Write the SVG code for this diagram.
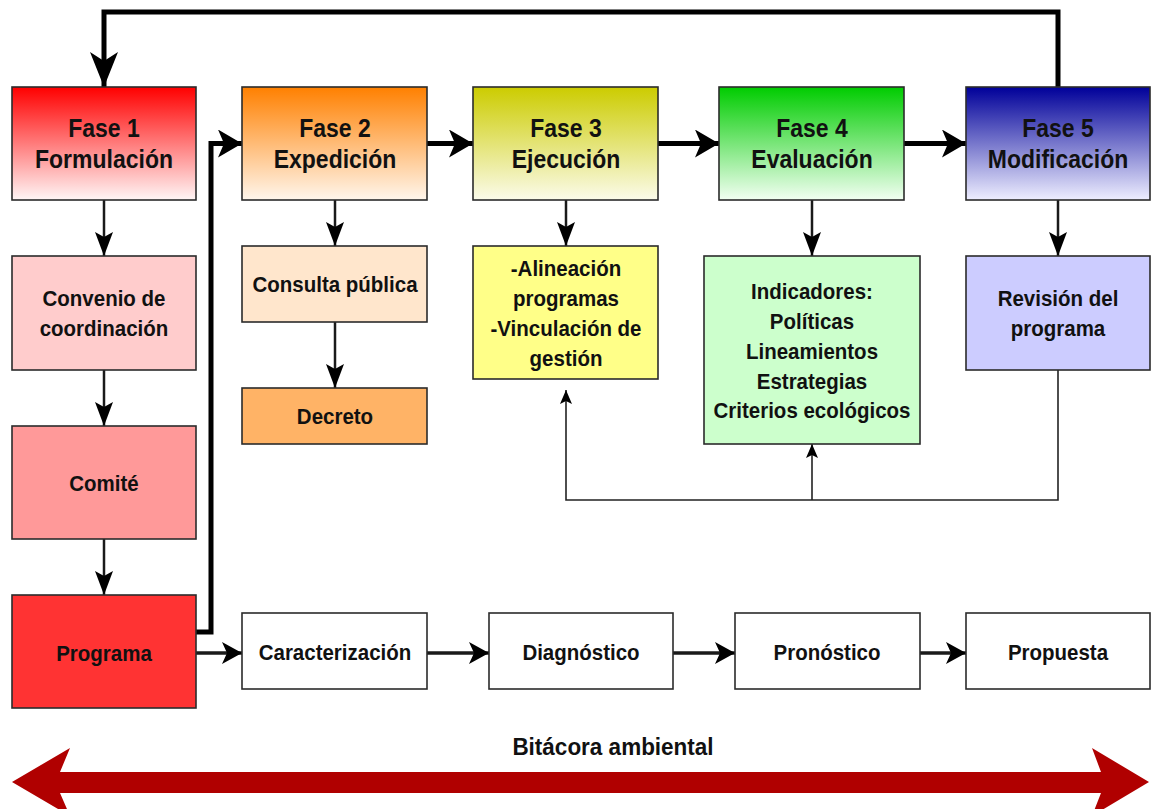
<svg xmlns="http://www.w3.org/2000/svg" width="1156" height="809" viewBox="0 0 1156 809">
  <style>
    .box { stroke: #2b2b2b; stroke-width: 1.6; }
    .t { font-family: "Liberation Sans", Arial, sans-serif; font-weight: bold; text-anchor: middle; fill: #111; }
    .h { font-size: 23px; }
    .s { font-size: 20.5px; }
    .thick { fill: none; stroke: #000; stroke-width: 5; }
    .mid { fill: none; stroke: #1a1a1a; stroke-width: 2.5; }
    .row { fill: none; stroke: #1a1a1a; stroke-width: 3.5; }
    .thin { fill: none; stroke: #222; stroke-width: 1.6; }
  </style>
  <defs>
    <linearGradient id="g1" x1="0" y1="0" x2="0" y2="1">
      <stop offset="0" stop-color="#ff0000"/><stop offset="1" stop-color="#fff6f6"/>
    </linearGradient>
    <linearGradient id="g2" x1="0" y1="0" x2="0" y2="1">
      <stop offset="0" stop-color="#ff8000"/><stop offset="1" stop-color="#fff6ec"/>
    </linearGradient>
    <linearGradient id="g3" x1="0" y1="0" x2="0" y2="1">
      <stop offset="0" stop-color="#cccc00"/><stop offset="1" stop-color="#fbfbea"/>
    </linearGradient>
    <linearGradient id="g4" x1="0" y1="0" x2="0" y2="1">
      <stop offset="0" stop-color="#00cc00"/><stop offset="1" stop-color="#f2fff2"/>
    </linearGradient>
    <linearGradient id="g5" x1="0" y1="0" x2="0" y2="1">
      <stop offset="0" stop-color="#000099"/><stop offset="1" stop-color="#eeeeff"/>
    </linearGradient>
    <marker id="loopHead" markerUnits="userSpaceOnUse" viewBox="0 0 35 28" markerWidth="35" markerHeight="28" refX="35" refY="14" orient="auto">
      <path d="M0,0 L35,14 L0,28 L9,14 z" fill="#000"/>
    </marker>
    <marker id="bigHead" markerUnits="userSpaceOnUse" viewBox="0 0 24 28" markerWidth="24" markerHeight="28" refX="24" refY="14" orient="auto">
      <path d="M0,0 L24,14 L0,28 L6,14 z" fill="#000"/>
    </marker>
    <marker id="midHead" markerUnits="userSpaceOnUse" viewBox="0 0 24 18" markerWidth="24" markerHeight="18" refX="24" refY="9" orient="auto">
      <path d="M0,0 L24,9 L0,18 L5,9 z" fill="#000"/>
    </marker>
    <marker id="rowHead" markerUnits="userSpaceOnUse" viewBox="0 0 20 22" markerWidth="20" markerHeight="22" refX="20" refY="11" orient="auto">
      <path d="M0,0 L20,11 L0,22 L5,11 z" fill="#000"/>
    </marker>
    <marker id="thinHead" markerUnits="userSpaceOnUse" viewBox="0 0 14 12" markerWidth="14" markerHeight="12" refX="14" refY="6" orient="auto">
      <path d="M0,0 L14,6 L0,12 L3,6 z" fill="#000"/>
    </marker>
  </defs>

  <rect width="1156" height="809" fill="#fff"/>

  <!-- connectors -->
  <g id="connectors">
    <!-- loop back from Fase 5 to Fase 1 -->
    <path class="thick" d="M1058,87 V12 H104 V87" marker-end="url(#loopHead)"/>
    <!-- Programa to Fase 2 -->
    <path class="thick" d="M196,632 H211 V143.5 H242" marker-end="url(#bigHead)"/>
    <!-- phase chain -->
    <path class="thick" d="M427,143.5 H473" marker-end="url(#bigHead)"/>
    <path class="thick" d="M658,143.5 H719" marker-end="url(#bigHead)"/>
    <path class="thick" d="M904,143.5 H966" marker-end="url(#bigHead)"/>
    <!-- Fase 1 column -->
    <path class="mid" d="M104,200 V256" marker-end="url(#midHead)"/>
    <path class="mid" d="M104,370 V426" marker-end="url(#midHead)"/>
    <path class="mid" d="M104,539 V595" marker-end="url(#midHead)"/>
    <!-- Fase 2 column -->
    <path class="mid" d="M335,200 V246" marker-end="url(#midHead)"/>
    <path class="mid" d="M335,322 V388" marker-end="url(#midHead)"/>
    <!-- Fase 3, 4, 5 -->
    <path class="mid" d="M566,200 V246" marker-end="url(#midHead)"/>
    <path class="mid" d="M812,200 V256" marker-end="url(#midHead)"/>
    <path class="mid" d="M1058,200 V256" marker-end="url(#midHead)"/>
    <!-- feedback from Revisión -->
    <path class="thin" d="M1058,370 V500 H566 V390" marker-end="url(#thinHead)"/>
    <path class="thin" d="M812,500 V444" marker-end="url(#thinHead)"/>
    <!-- bottom row -->
    <path class="row" d="M196,653 H242" marker-end="url(#rowHead)"/>
    <path class="row" d="M427,653 H489" marker-end="url(#rowHead)"/>
    <path class="row" d="M673,653 H735" marker-end="url(#rowHead)"/>
    <path class="row" d="M920,653 H966" marker-end="url(#rowHead)"/>
  </g>

  <!-- phases -->
  <g id="fase1">
    <rect class="box" x="12" y="87" width="184" height="113" fill="url(#g1)"/>
    <text class="t h" transform="translate(104 137) scale(1 1.12)">Fase 1</text>
    <text class="t h" transform="translate(104 168) scale(1 1.12)">Formulación</text>
  </g>
  <g id="fase2">
    <rect class="box" x="242" y="87" width="185" height="113" fill="url(#g2)"/>
    <text class="t h" transform="translate(335 137) scale(1 1.12)">Fase 2</text>
    <text class="t h" transform="translate(335 168) scale(1 1.12)">Expedición</text>
  </g>
  <g id="fase3">
    <rect class="box" x="473" y="87" width="185" height="113" fill="url(#g3)"/>
    <text class="t h" transform="translate(566 137) scale(1 1.12)">Fase 3</text>
    <text class="t h" transform="translate(566 168) scale(1 1.12)">Ejecución</text>
  </g>
  <g id="fase4">
    <rect class="box" x="719" y="87" width="185" height="113" fill="url(#g4)"/>
    <text class="t h" transform="translate(812 137) scale(1 1.12)">Fase 4</text>
    <text class="t h" transform="translate(812 168) scale(1 1.12)">Evaluación</text>
  </g>
  <g id="fase5">
    <rect class="box" x="966" y="87" width="184" height="113" fill="url(#g5)"/>
    <text class="t h" transform="translate(1058 137) scale(1 1.12)">Fase 5</text>
    <text class="t h" transform="translate(1058 168) scale(1 1.12)">Modificación</text>
  </g>

  <!-- Fase 1 column -->
  <g id="convenio">
    <rect class="box" x="12" y="256" width="184" height="114" fill="#ffcccc"/>
    <text class="t s" transform="translate(104 306) scale(1 1.12)">Convenio de</text>
    <text class="t s" transform="translate(104 336) scale(1 1.12)">coordinación</text>
  </g>
  <g id="comite">
    <rect class="box" x="12" y="426" width="184" height="113" fill="#ff9999"/>
    <text class="t s" transform="translate(104 491) scale(1 1.12)">Comité</text>
  </g>
  <g id="programa">
    <rect class="box" x="12" y="595" width="184" height="113" fill="#ff3333"/>
    <text class="t s" transform="translate(104 661) scale(1 1.12)">Programa</text>
  </g>

  <!-- Fase 2 column -->
  <g id="consulta">
    <rect class="box" x="242" y="246" width="185" height="76" fill="#ffe6cc"/>
    <text class="t s" transform="translate(335 292) scale(1 1.12)">Consulta pública</text>
  </g>
  <g id="decreto">
    <rect class="box" x="242" y="388" width="185" height="56" fill="#ffb366"/>
    <text class="t s" transform="translate(335 424) scale(1 1.12)">Decreto</text>
  </g>

  <!-- Fase 3 detail -->
  <g id="alineacion">
    <rect class="box" x="473" y="246" width="185" height="133" fill="#ffff88"/>
    <text class="t s" transform="translate(566 276) scale(1 1.12)">-Alineación</text>
    <text class="t s" transform="translate(566 306) scale(1 1.12)">programas</text>
    <text class="t s" transform="translate(566 336) scale(1 1.12)">-Vinculación de</text>
    <text class="t s" transform="translate(566 366) scale(1 1.12)">gestión</text>
  </g>

  <!-- Fase 4 detail -->
  <g id="indicadores">
    <rect class="box" x="704" y="256" width="216" height="188" fill="#ccffcc"/>
    <text class="t s" transform="translate(812 299) scale(1 1.12)">Indicadores:</text>
    <text class="t s" transform="translate(812 329) scale(1 1.12)">Políticas</text>
    <text class="t s" transform="translate(812 359) scale(1 1.12)">Lineamientos</text>
    <text class="t s" transform="translate(812 389) scale(1 1.12)">Estrategias</text>
    <text class="t s" transform="translate(812 418) scale(1 1.12)">Criterios ecológicos</text>
  </g>

  <!-- Fase 5 detail -->
  <g id="revision">
    <rect class="box" x="966" y="256" width="184" height="114" fill="#ccccff"/>
    <text class="t s" transform="translate(1058 306) scale(1 1.12)">Revisión del</text>
    <text class="t s" transform="translate(1058 336) scale(1 1.12)">programa</text>
  </g>

  <!-- bottom row -->
  <g id="caracterizacion">
    <rect class="box" x="242" y="613" width="185" height="76" fill="#fff"/>
    <text class="t s" transform="translate(335 660) scale(1 1.12)">Caracterización</text>
  </g>
  <g id="diagnostico">
    <rect class="box" x="489" y="613" width="184" height="76" fill="#fff"/>
    <text class="t s" transform="translate(581 660) scale(1 1.12)">Diagnóstico</text>
  </g>
  <g id="pronostico">
    <rect class="box" x="735" y="613" width="185" height="76" fill="#fff"/>
    <text class="t s" transform="translate(827 660) scale(1 1.12)">Pronóstico</text>
  </g>
  <g id="propuesta">
    <rect class="box" x="966" y="613" width="184" height="76" fill="#fff"/>
    <text class="t s" transform="translate(1058 660) scale(1 1.12)">Propuesta</text>
  </g>

  <!-- environmental log band -->
  <g id="bitacora">
    <text class="t" font-size="22.5" transform="translate(613 755) scale(1 1.08)">Bitácora ambiental</text>
    <path d="M12,782 L70,748 L60,772 H1101 L1092,748 L1149,782 L1092,816 L1101,793 H60 L70,816 z" fill="#b00000"/>
  </g>
</svg>
